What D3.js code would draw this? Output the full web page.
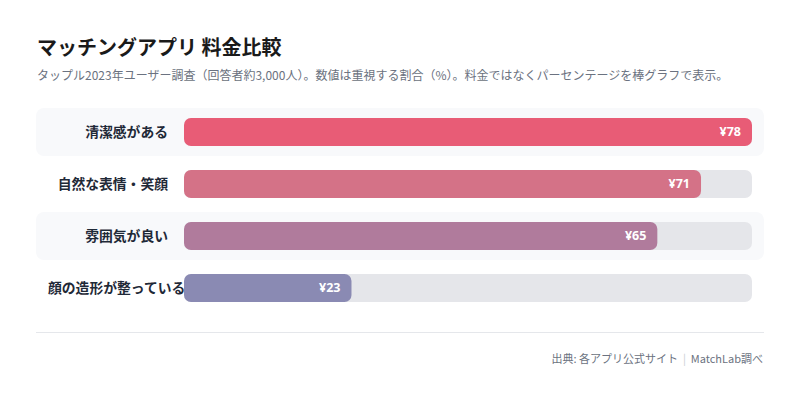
<!DOCTYPE html>
<html><head><meta charset="utf-8">
<script src="https://cdn.jsdelivr.net/npm/d3@7"></script>
<style>
html,body{margin:0;padding:0;background:#fff;}
svg{display:block;font-family:"Noto Sans CJK JP","Noto Sans",sans-serif;}
</style></head>
<body>
<svg id="c" width="800" height="401"></svg>
<script>
const categories = ["清潔感がある", "自然な表情・笑顔", "雰囲気が良い", "顔の造形が整っている"];
const values = [78, 71, 65, 23];
const valueLabels = ["¥78", "¥71", "¥65", "¥23"];
const colors = ["#e85c76", "#d47287", "#b07b9c", "#8a8ab3"];
const title = "マッチングアプリ 料金比較";
const subtitle = "タップル2023年ユーザー調査（回答者約3,000人）。数値は重視する割合（%）。料金ではなくパーセンテージを棒グラフで表示。";
const sourceText = "出典: 各アプリ公式サイト";
const creditText = "MatchLab調べ";

const svg = d3.select("#c");
const left = 36, right = 764;
const barX0 = 184, barX1 = 752;

svg.append("text").attr("x", 37).attr("y", 55)
  .attr("font-size", 20).attr("font-weight", 700).attr("fill", "#1a1a1a").text(title);
svg.append("text").attr("x", 37).attr("y", 80)
  .attr("font-size", 12).attr("fill", "#6b7280").text(subtitle);

const y = d3.scaleBand().domain(categories).range([108, 316]).paddingInner(0);
const x = d3.scaleLinear().domain([0, d3.max(values)]).range([barX0, barX1]);

const rows = svg.selectAll("g.row").data(categories).enter().append("g").attr("class", "row")
  .attr("transform", d => `translate(0,${y(d)})`);

rows.filter((d, i) => i % 2 === 0).append("rect")
  .attr("x", left).attr("y", 0).attr("width", right - left).attr("height", y.bandwidth() - 4)
  .attr("rx", 8).attr("fill", "#f8f9fb");

const barY = 10, barH = 28;
rows.append("rect").attr("x", barX0).attr("y", barY).attr("width", barX1 - barX0).attr("height", barH)
  .attr("rx", 7).attr("fill", "#e5e6ea");
rows.append("rect").attr("x", barX0).attr("y", barY)
  .attr("width", (d, i) => x(values[i]) - barX0).attr("height", barH)
  .attr("rx", 7).attr("fill", (d, i) => colors[i]);

rows.append("text").attr("y", barY + barH / 2).attr("dy", "0.35em")
  .attr("font-size", 13.8).attr("font-weight", 700).attr("fill", "#1f2937")
  .text(d => d)
  .each(function () {
    const w = this.getComputedTextLength();
    const xr = 168, minLeft = 48;
    this.setAttribute("x", Math.max(minLeft, xr - w));
  });

rows.append("text").attr("x", (d, i) => x(values[i]) - 11).attr("y", barY + barH / 2).attr("dy", "0.35em")
  .attr("text-anchor", "end").attr("font-size", 12.5).attr("font-weight", 700).attr("fill", "#ffffff")
  .attr("font-family", "'Noto Sans','Noto Sans CJK JP',sans-serif")
  .text((d, i) => valueLabels[i]);

svg.append("line").attr("x1", left).attr("x2", right).attr("y1", 332.5).attr("y2", 332.5)
  .attr("stroke", "#e5e7eb").attr("stroke-width", 1);

const foot = svg.append("text").attr("x", 763).attr("y", 363).attr("text-anchor", "end")
  .attr("font-size", 11).attr("fill", "#6b7280");
foot.append("tspan").text(sourceText);
foot.append("tspan").attr("fill", "#c9cdd3").text("\u00a0\u00a0|\u00a0\u00a0");
foot.append("tspan").text(creditText);
</script>
</body></html>
